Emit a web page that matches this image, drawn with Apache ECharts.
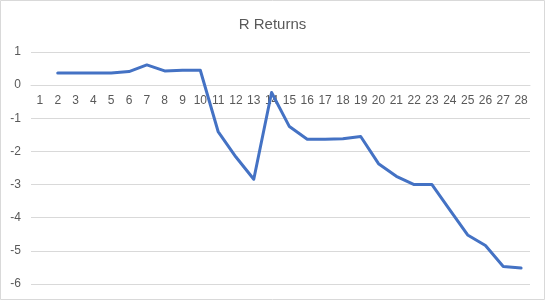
<!DOCTYPE html>
<html>
<head>
<meta charset="utf-8">
<script src="https://cdn.jsdelivr.net/npm/echarts@6/dist/echarts.min.js"></script>
<style>
html,body{margin:0;padding:0;background:#fff;}
#chart{width:545px;height:300px;}
</style>
</head>
<body>
<div id="chart"></div>
<script>
var categories = ['1','2','3','4','5','6','7','8','9','10','11','12','13','14','15','16','17','18','19','20','21','22','23','24','25','26','27','28'];
var returnsValues = [null,0.37,0.37,0.37,0.37,0.41,0.61,0.43,0.45,0.45,-1.40,-2.17,-2.84,-0.22,-1.25,-1.63,-1.63,-1.62,-1.55,-2.37,-2.75,-3.00,-3.00,-3.76,-4.52,-4.84,-5.47,-5.52];
var yTicks = {min:-6, max:1, interval:1};

var gridTop = 52, gridBottom = 16, H = 300;
var gridHeight = H - gridTop - gridBottom;
var zeroOffset = -gridHeight * (0 - yTicks.min) / (yTicks.max - yTicks.min);

var chart = echarts.init(document.getElementById('chart'), null, {renderer:'canvas'});
chart.setOption({
  animation:false,
  backgroundColor:'#ffffff',
  title:{
    text:'R Returns', left:'center', top:12,
    textStyle:{fontFamily:'Liberation Sans', fontSize:15, fontWeight:'normal', color:'#595959'}
  },
  graphic:[{type:'rect', shape:{x:0.5,y:0.5,width:544,height:299}, style:{fill:'none', stroke:'#d9d9d9', lineWidth:1}, silent:true}],
  grid:{left:31, right:15, top:gridTop, bottom:gridBottom, containLabel:false},
  xAxis:{
    type:'category', data:categories, boundaryGap:true, offset:zeroOffset,
    axisLine:{show:true, onZero:false, lineStyle:{color:'#d9d9d9', width:1}},
    axisTick:{show:false},
    axisLabel:{interval:0, margin:10, fontFamily:'Liberation Sans', fontSize:12, color:'#595959'},
    splitLine:{show:false}
  },
  yAxis:{
    type:'value', min:yTicks.min, max:yTicks.max, interval:yTicks.interval,
    axisLine:{show:false}, axisTick:{show:false},
    axisLabel:{margin:10, fontFamily:'Liberation Sans', fontSize:12, color:'#595959'},
    splitLine:{lineStyle:{color:'#d9d9d9', width:1}}
  },
  series:[{
    type:'line', data:returnsValues, showSymbol:false, connectNulls:false,
    lineStyle:{color:'#4472C4', width:3, cap:'round', join:'round'},
    itemStyle:{color:'#4472C4'}
  }]
});
</script>
</body>
</html>
